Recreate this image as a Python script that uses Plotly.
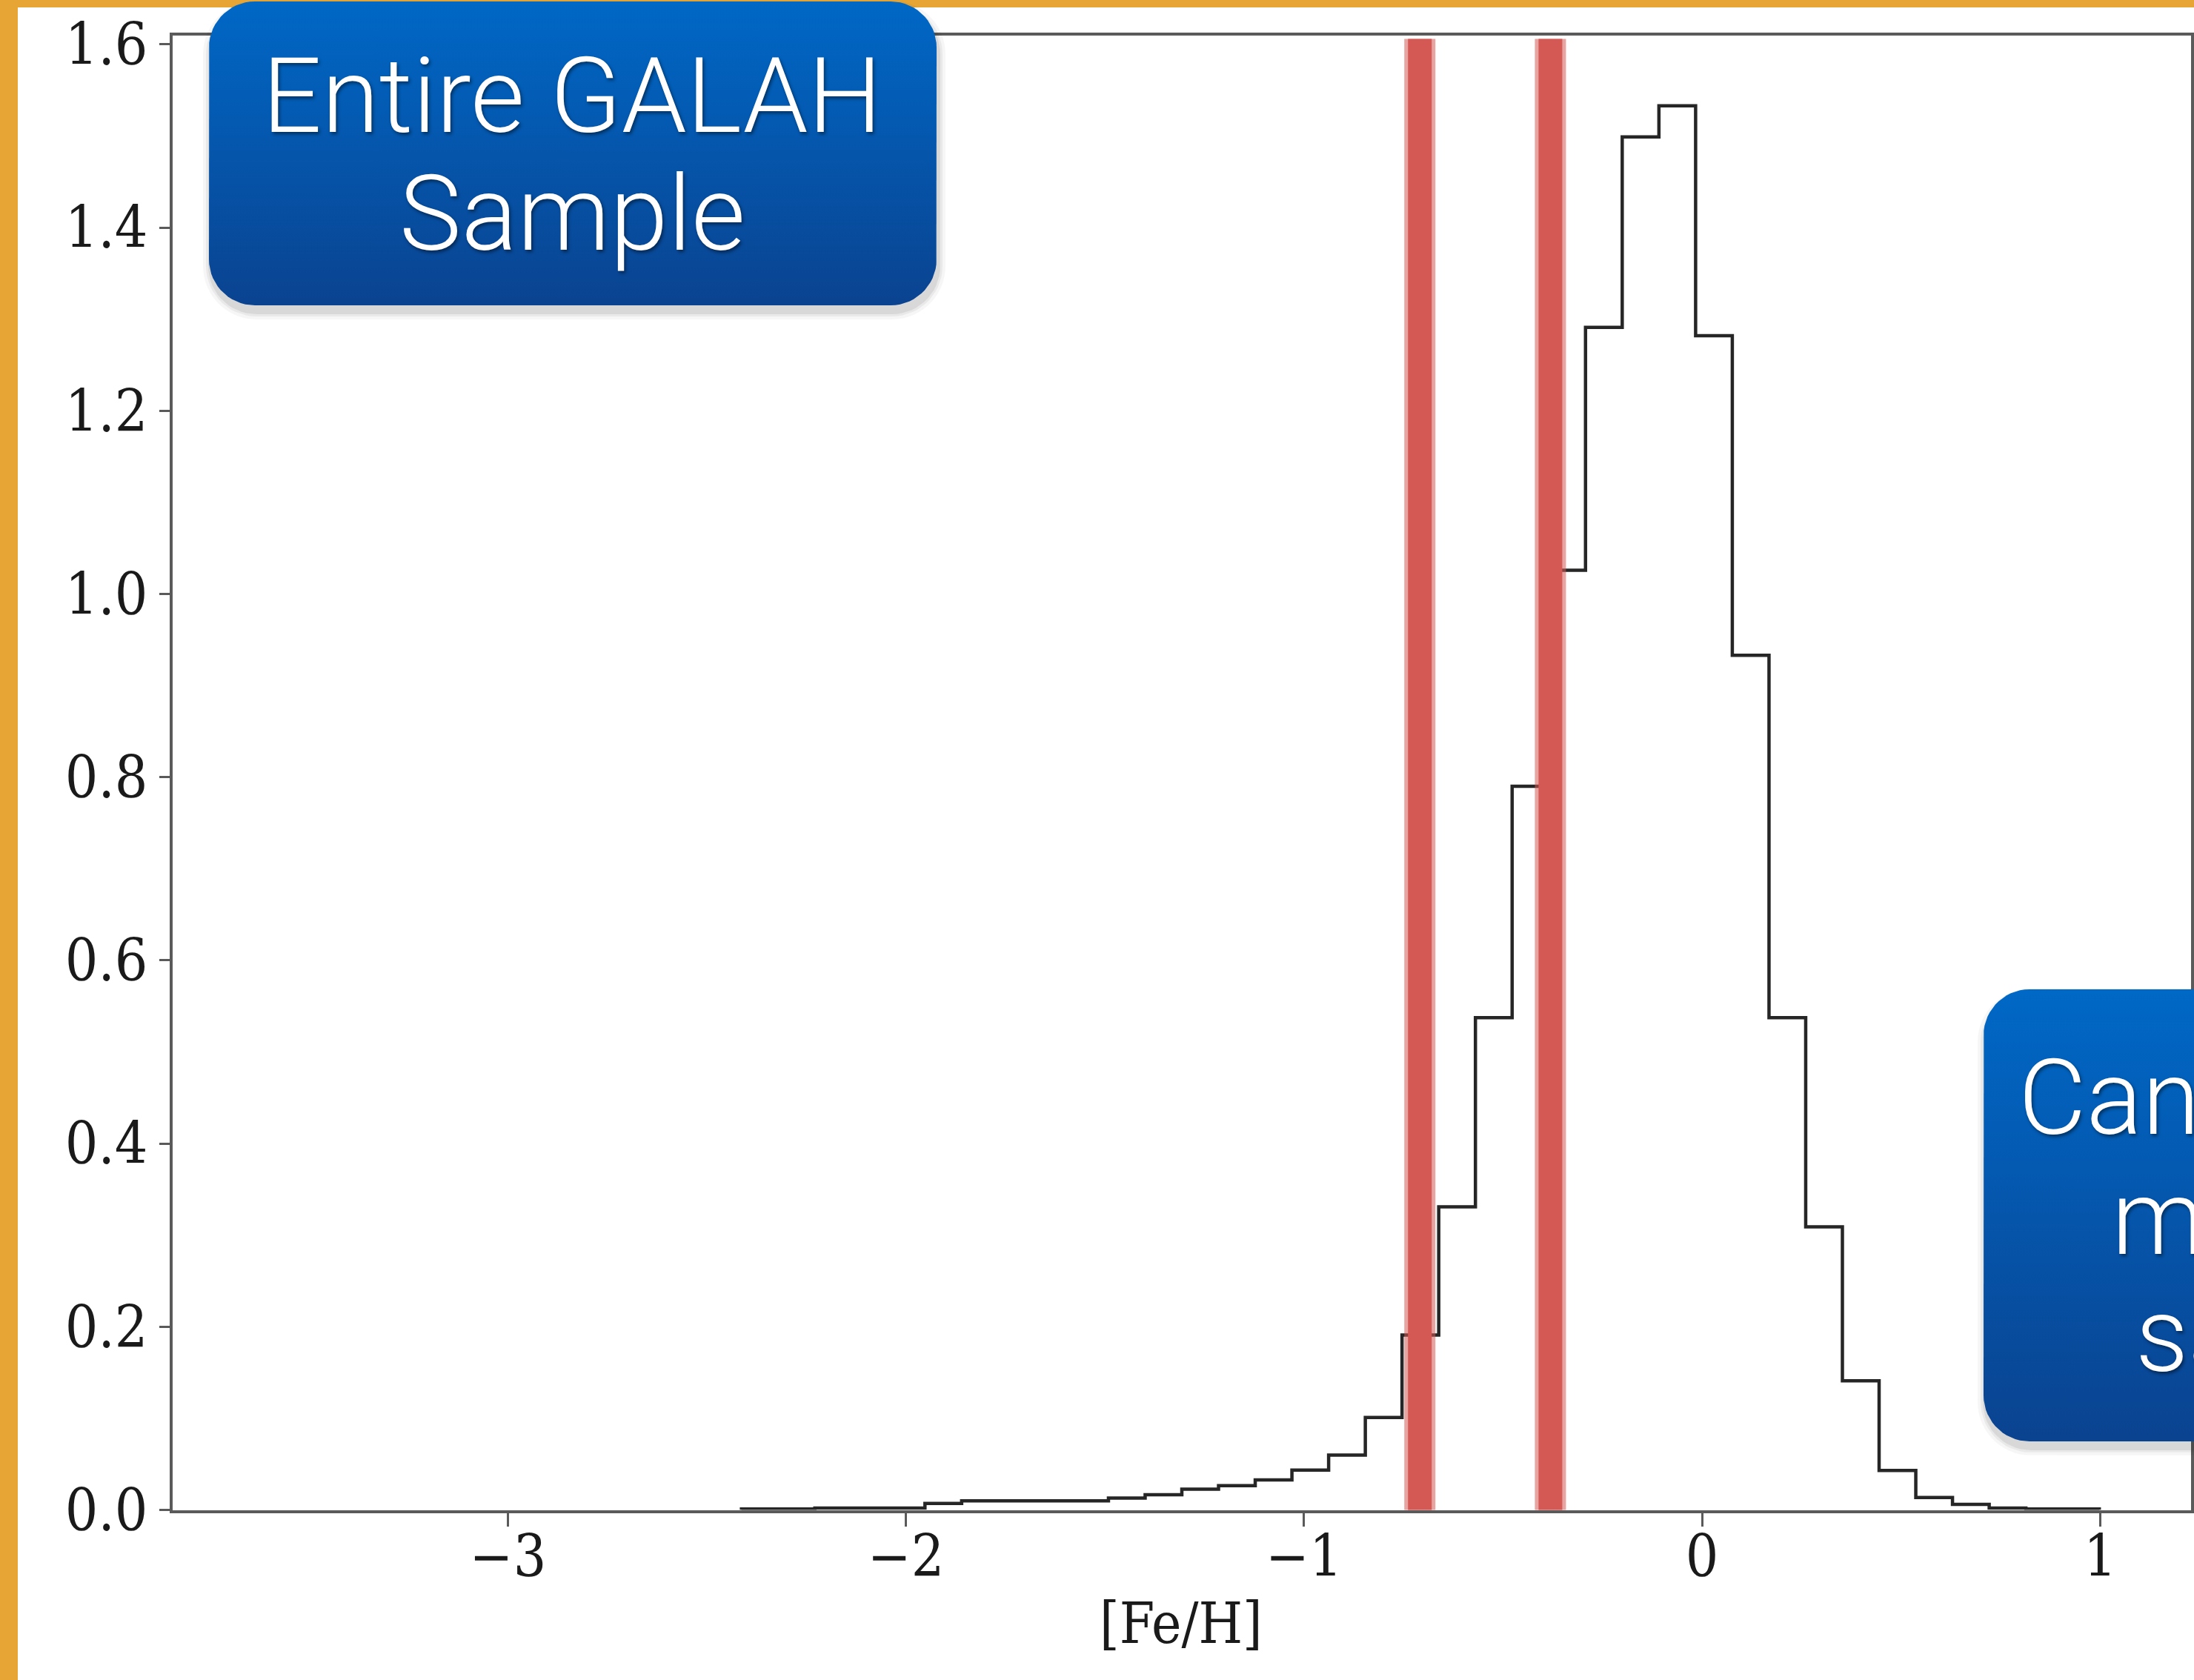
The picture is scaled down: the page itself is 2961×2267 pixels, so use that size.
import numpy as np
import plotly.graph_objects as go

W, H = 2961, 2267

# ---------------- data ----------------
feh_min, feh_max, n_bins = -3.612, 0.998, 50
density = [0, 0, 0, 0, 0, 0, 0, 0, 0, 0, 0, 0, 0,
           0.001, 0.001, 0.002, 0.002, 0.002,
           0.007, 0.010, 0.010, 0.010, 0.010,
           0.013, 0.0165, 0.0227, 0.0265, 0.0327, 0.0435, 0.0598, 0.101,
           0.191, 0.331, 0.5375, 0.790, 1.026, 1.291, 1.499, 1.533, 1.282,
           0.933, 0.5375, 0.309, 0.141, 0.043, 0.0135, 0.006, 0.002, 0.001, 0.001]
feh_cuts = [-0.709, -0.381]
x_ticks = [-3, -2, -1, 0, 1]
y_ticks = [0.0, 0.2, 0.4, 0.6, 0.8, 1.0, 1.2, 1.4, 1.6]
x_label = "[Fe/H]"
box1_lines = ["Entire GALAH", "Sample"]
box2_lines = ["Can we match the", "metal-poor", "sample?"]

# ---------------- layout geometry ----------------
L_PX, R_PX, T_PX, B_PX = 233, 2957, 48, 2037.5
xdom = [L_PX / W, R_PX / W]
ydom = [1 - B_PX / H, 1 - T_PX / H]
pad = 0.05 * (feh_max - feh_min)
xr = [feh_min - pad, feh_max + pad]
yr = [0, max(density) * 1.05]

edges = np.linspace(feh_min, feh_max, n_bins + 1)
first = next(i for i, h in enumerate(density) if h > 0)
hx, hy = [edges[first]], [0.0]
for i in range(first, n_bins):
    hx += [edges[i], edges[i + 1]]
    hy += [density[i], density[i]]
hx.append(edges[-1]); hy.append(0.0)

fig = go.Figure()
fig.add_trace(go.Scatter(x=hx, y=hy, mode="lines",
                         line=dict(color="#262626", width=4.5),
                         hoverinfo="skip", showlegend=False))


def rrect(x0, y0, x1, y1, r, n=16):
    """rounded rectangle in pixel coords (y down) -> (xs, Ys) with Y up"""
    pts = []
    corners = [(x1 - r, y0 + r, -90, 0), (x1 - r, y1 - r, 0, 90),
               (x0 + r, y1 - r, 90, 180), (x0 + r, y0 + r, 180, 270)]
    for cx, cy, a0, a1 in corners:
        for a in np.linspace(np.radians(a0), np.radians(a1), n):
            pts.append((cx + r * np.cos(a), cy + r * np.sin(a)))
    pts.append(pts[0])
    xs = [p[0] for p in pts]
    ys = [H - p[1] for p in pts]
    return xs, ys


def add_box(x0, y0, x1, y1, r):
    for e, a in [(10, 0.035), (6, 0.05), (3, 0.07)]:
        xs, ys = rrect(x0 - e + 2, y0 - e + 9, x1 + e + 2, y1 + e + 9, r + e)
        fig.add_trace(go.Scatter(x=xs, y=ys, mode="lines", fill="toself",
                                 fillcolor=f"rgba(0,0,0,{a})", line=dict(width=0),
                                 xaxis="x2", yaxis="y2", hoverinfo="skip",
                                 showlegend=False))
    xs, ys = rrect(x0, y0, x1, y1, r)
    fig.add_trace(go.Scatter(
        x=xs, y=ys, mode="lines", fill="toself", line=dict(width=0),
        fillgradient=dict(type="vertical",
                          colorscale=[[0, "#0A4390"], [1, "#0068C6"]],
                          start=H - y1, stop=H - y0),
        xaxis="x2", yaxis="y2", hoverinfo="skip", showlegend=False))


add_box(282, 2, 1264, 412, 62)
add_box(2677, 1335, 3500, 1945, 62)

tick_font = dict(family="DejaVu Serif Condensed, DejaVu Serif, serif", size=78, color="#1a1a1a")
axis_common = dict(showline=True, mirror=True, linecolor="#5a5a5a", linewidth=4,
                   ticks="outside", tickcolor="#5a5a5a", tickwidth=3,
                   showgrid=False, zeroline=False, tickfont=tick_font)

fig.update_layout(
    width=W, height=H,
    margin=dict(l=0, r=0, t=0, b=0, autoexpand=False),
    paper_bgcolor="white", plot_bgcolor="rgba(0,0,0,0)",
    xaxis=dict(domain=xdom, range=xr, tickvals=x_ticks, ticklen=18,
               ticklabelstandoff=-26,
               ticktext=[("\u2212" if v < 0 else "") + str(abs(v)) for v in x_ticks],
               **axis_common),
    yaxis=dict(domain=ydom, range=yr, tickvals=y_ticks, ticklen=14,
               ticktext=[f"{v:.1f}" for v in y_ticks], **axis_common),
    xaxis2=dict(domain=[0, 1], range=[0, W], visible=False, anchor="y2"),
    yaxis2=dict(domain=[0, 1], range=[0, H], visible=False, anchor="x2"),
)

# red chalk lines marking the cuts
for c in feh_cuts:
    fig.add_shape(type="line", xref="x", yref="y", x0=c, x1=c, y0=-0.01, y1=1.606,
                  line=dict(color="rgba(212,89,84,0.55)", width=42), layer="above")
    fig.add_shape(type="line", xref="x", yref="y", x0=c, x1=c, y0=-0.01, y1=1.606,
                  line=dict(color="#D45954", width=32), layer="above")

# orange slide frame
fig.add_shape(type="rect", xref="paper", yref="paper", x0=0, x1=24 / W, y0=0, y1=1,
              fillcolor="#E6A535", line=dict(width=0), layer="below")
fig.add_shape(type="rect", xref="paper", yref="paper", x0=0, x1=1, y0=1 - 10 / H, y1=1,
              fillcolor="#E6A535", line=dict(width=0), layer="below")

box_font = dict(family="Roboto, Lato, sans-serif", size=141, color="white", weight=300,
                shadow="2px 3px 4px rgba(0,0,0,0.45)")


def ann(text, px, py, xanchor="center"):
    fig.add_annotation(text=text, xref="paper", yref="paper", x=px / W, y=1 - py / H,
                       xanchor=xanchor, yanchor="middle", showarrow=False, font=box_font)


ann(box1_lines[0], 772, 130)
ann(box1_lines[1], 772, 288)
ann(box2_lines[0], 2722, 1481, "left")
ann(box2_lines[1], 2848, 1643, "left")
ann(box2_lines[2], 2880, 1801, "left")

fig.add_annotation(text=x_label, xref="paper", yref="paper", x=1594 / W, y=1 - 2190 / H,
                   xanchor="center", yanchor="middle", showarrow=False,
                   font=dict(family="DejaVu Serif Condensed, DejaVu Serif, serif",
                             size=76, color="#1a1a1a"))

fig.write_html("out.html", config=dict(displayModeBar=False))
